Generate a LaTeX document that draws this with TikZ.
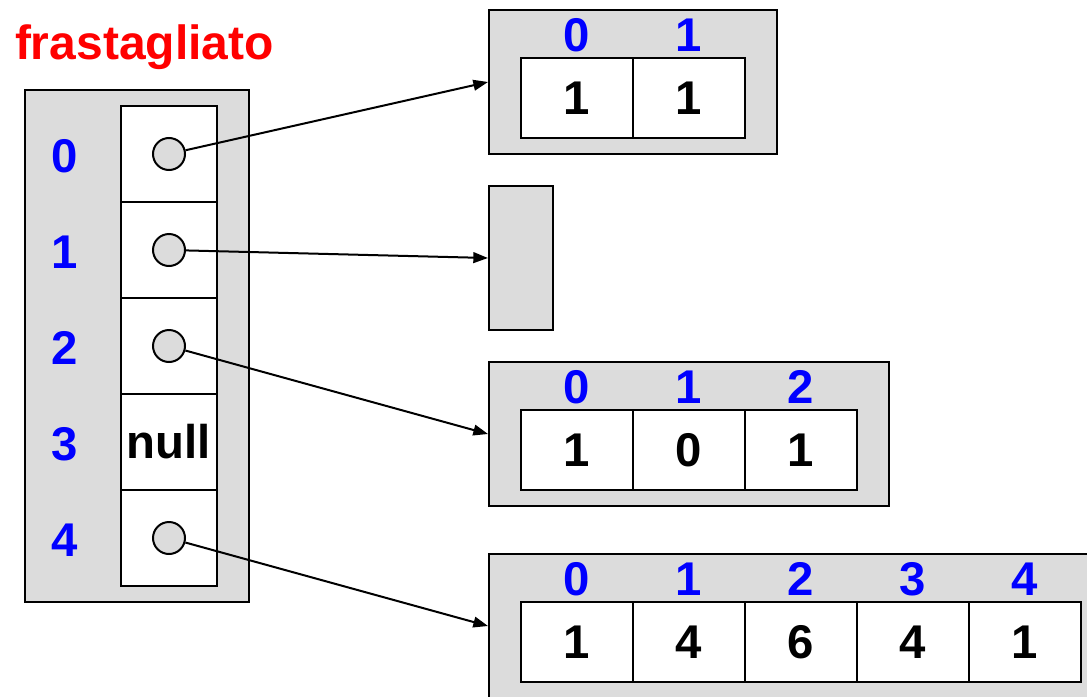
\documentclass[tikz,border=0pt]{standalone}
\usepackage{fontspec}
\setmainfont{Liberation Sans}
\usetikzlibrary{arrows.meta}

\definecolor{boxgray}{RGB}{220,220,220}
\newcommand{\bigbold}{\fontsize{35.5}{40}\selectfont\bfseries}

\tikzset{every picture/.style={line width=1.5pt}}
\tikzset{
  panel/.style={draw, fill=boxgray, inner sep=0pt, minimum height=108pt},
  cell/.style={draw, fill=white, inner sep=0pt, minimum width=84pt, minimum height=60pt, font=\bigbold},
  slot/.style={draw, fill=white, inner sep=0pt, minimum width=72pt, minimum height=72pt, font=\bigbold},
  idx/.style={text=blue, inner sep=0pt, font=\bigbold},
  ref/.style={circle, draw, fill=boxgray, inner sep=0pt, minimum size=24pt},
  link/.style={-{Triangle[length=11pt,width=8pt]}}
}

\begin{document}
\begin{tikzpicture}[x=0.75pt,y=0.75pt,yscale=-1,xscale=1]
\clip (0,0) rectangle (1087,696);

% Text Node
\node [anchor=base west, inner sep=0pt, text=red, font=\fontsize{36}{40}\selectfont\bfseries] (title) at (14,59) {frastagliato};

%Shape: Rectangle [outer array]
\node [panel, minimum width=168pt, minimum height=384pt] (outer) at (137,346) {};
\node [slot] (c0) at (169,154) {};
\node [slot] (c1) at (169,250) {};
\node [slot] (c2) at (169,346) {};
\node [slot] (c3) at (169,442) {null};
\node [slot] (c4) at (169,538) {};
% Text Node
\node [idx] (i0) at (65,156) {0};
\node [idx] (i1) at (65,252) {1};
\node [idx] (i2) at (65,348) {2};
\node [idx] (i3) at (65,444) {3};
\node [idx] (i4) at (65,540) {4};
%Shape: Circle
\node [ref] (p0) at (169,154) {};
\node [ref] (p1) at (169,250) {};
\node [ref] (p2) at (169,346) {};
\node [ref] (p4) at (169,538) {};

%Shape: Rectangle [row 0]
\node [panel, minimum width=216pt] (r0) at (633,82) {};
\node [cell] (r0c0) at (577,98) {1};
\node [cell] (r0c1) at (689,98) {1};
\node [idx] (r0i0) at (577,35) {0};
\node [idx] (r0i1) at (689,35) {1};

%Shape: Rectangle [row 1, empty]
\node [panel, minimum width=48pt] (r1) at (521,258) {};

%Shape: Rectangle [row 2]
\node [panel, minimum width=300pt] (r2) at (689,434) {};
\node [cell] (r2c0) at (577,450) {1};
\node [cell] (r2c1) at (689,450) {0};
\node [cell] (r2c2) at (801,450) {1};
\node [idx] (r2i0) at (577,387) {0};
\node [idx] (r2i1) at (689,387) {1};
\node [idx] (r2i2) at (801,387) {2};

%Shape: Rectangle [row 4]
\node [panel, minimum width=468pt] (r4) at (801,626) {};
\node [cell] (r4c0) at (577,642) {1};
\node [cell] (r4c1) at (689,642) {4};
\node [cell] (r4c2) at (801,642) {6};
\node [cell] (r4c3) at (913,642) {4};
\node [cell] (r4c4) at (1025,642) {1};
\node [idx] (r4i0) at (577,579) {0};
\node [idx] (r4i1) at (689,579) {1};
\node [idx] (r4i2) at (801,579) {2};
\node [idx] (r4i3) at (913,579) {3};
\node [idx] (r4i4) at (1025,579) {4};

%Straight Lines
\draw [link] (p0) -- (r0.west);
\draw [link] (p1) -- (r1.west);
\draw [link] (p2) -- (r2.west);
\draw [link] (p4) -- (r4.west);
\end{tikzpicture}
\end{document}
